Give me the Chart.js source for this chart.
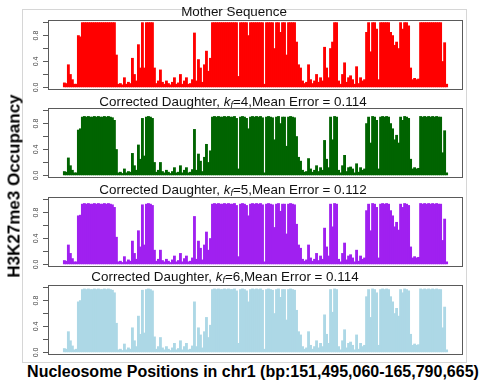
<!DOCTYPE html>
<html>
<head>
<meta charset="utf-8">
<script src="https://cdn.jsdelivr.net/npm/chart.js@4.4.1/dist/chart.umd.min.js"></script>
<style>
  body { margin: 0; background: #fff; font-family: "Liberation Sans", Arial, sans-serif; }
  #page { position: relative; width: 485px; height: 386px; overflow: hidden; }
  #frame { position: absolute; left: 22px; top: 9px; width: 445px; height: 354px; border: 1px solid #d6d6d6; box-sizing: border-box; }
  canvas { position: absolute; left: 22px; }
  .ttl { position: absolute; font-size: 13.4px; line-height: 13px; white-space: nowrap; transform: translateX(-50%); color: #111; z-index: 2; }
  .ttl sub { font-size: 9px; vertical-align: -2px; line-height: 0; }
  #ylab { position: absolute; left: 14px; top: 186px; font-size: 17px; font-weight: bold; line-height: 17px; white-space: nowrap; transform: translate(-50%, -50%) rotate(-90deg); color: #000; }
  #xlab { position: absolute; left: 253px; top: 364px; font-size: 16px; font-weight: bold; line-height: 16px; white-space: nowrap; transform: translateX(-50%); color: #000; }
</style>
</head>
<body>
<div id="page">
  <div id="frame"></div>
  <canvas id="c1" width="444" height="86" style="top:12px"></canvas>
  <canvas id="c2" width="444" height="86" style="top:100px"></canvas>
  <canvas id="c3" width="444" height="86" style="top:189px"></canvas>
  <canvas id="c4" width="444" height="86" style="top:277px"></canvas>
  <div class="ttl" style="left:234px;top:5px">Mother Sequence</div>
  <div class="ttl" style="left:233px;top:95px">Corrected Daughter, <i>k<sub>f</sub></i>=4,Mean Error = 0.114</div>
  <div class="ttl" style="left:233px;top:183px">Corrected Daughter, <i>k<sub>f</sub></i>=5,Mean Error = 0.112</div>
  <div class="ttl" style="left:225px;top:270px">Corrected Daughter, <i>k<sub>f</sub></i>=6,Mean Error = 0.114</div>
  <div id="ylab">H3K27me3 Occupancy</div>
  <div id="xlab">Nucleosome Positions in chr1 (bp:151,495,060-165,790,665)</div>
</div>
<script>
// occupancy per position (192 bins across chr1:151,495,060-165,790,665)
var mother = [
  0.07,0.06,0.35,0.2,0.12,0.05,0.05,0.8,0.78,1,1,1,1,1,1,1,
  1,1,1,1,1,1,1,1,1,1,0.5,0.05,0.06,0.04,0.15,0.05,
  0.08,0.06,0.45,0.2,0.1,0.66,0.3,1,0.3,1,1,1,1,0.3,0.06,0.1,
  0.27,0.08,0.05,0.1,0.06,0.04,0.08,0.15,0.05,0.07,0.2,0.05,0.1,0.15,0.05,0.06,
  0.12,0.84,0.1,0.43,0.3,0.08,0.35,0.56,0.25,0.45,1,1,1,1,1,1,
  1,1,1,1,1,1,1,0.17,1,1,1,1,0.8,1,1,1,
  1,1,1,1,0.05,1,1,1,1,0.6,1,1,0.85,1,1,0.5,
  1,1,1,1,0.7,0.35,0.3,0.1,0.06,0.08,0.35,0.12,0.06,0.1,0.2,0.08,
  0.15,0.1,0.62,0.3,0.15,0.6,0.7,1,1,0.1,0.05,0.2,0.38,0.08,0.15,0.18,
  0.12,0.05,0.32,0.06,0.15,0.1,0.12,0.85,1,0.55,1,1,0.9,0.12,1,1,
  1,1,1,0.85,0.8,0.65,0.7,0.6,1,0.9,1,1,0.95,0.3,0.12,0.14,
  0.12,0.13,1,1,1,1,1,1,1,1,1,1,1,0.4,0.69,0.05
];
var daughterK4 = [
  0.06,0.05,0.27,0.15,0.08,0.04,0.04,0.7,0.72,0.9,0.91,0.9,0.91,0.9,0.9,0.91,
  0.9,0.91,0.9,0.9,0.91,0.9,0.91,0.9,0.89,0.85,0.4,0.04,0.05,0.03,0.1,0.04,
  0.06,0.05,0.34,0.15,0.08,0.47,0.25,0.88,0.3,0.9,0.91,0.9,0.88,0.2,0.05,0.08,
  0.2,0.06,0.04,0.08,0.05,0.03,0.06,0.12,0.04,0.05,0.15,0.04,0.08,0.12,0.04,0.05,
  0.09,0.71,0.08,0.33,0.22,0.06,0.28,0.48,0.2,0.38,0.9,0.91,0.9,0.91,0.9,0.9,
  0.91,0.9,0.91,0.9,0.9,0.91,0.88,0.1,0.9,0.91,0.9,0.88,0.72,0.9,0.91,0.9,
  0.91,0.9,0.91,0.89,0.04,0.9,0.91,0.9,0.89,0.55,0.9,0.91,0.8,0.9,0.9,0.45,
  0.9,0.91,0.9,0.89,0.6,0.28,0.22,0.08,0.05,0.06,0.26,0.1,0.05,0.08,0.15,0.06,
  0.12,0.08,0.54,0.25,0.12,0.9,0.55,0.91,0.9,0.08,0.04,0.15,0.31,0.06,0.12,0.13,
  0.1,0.04,0.18,0.05,0.12,0.08,0.1,0.8,0.9,0.5,0.91,0.9,0.85,0.1,0.9,0.91,
  0.9,0.91,0.9,0.8,0.72,0.55,0.62,0.5,0.9,0.85,0.91,0.9,0.88,0.25,0.1,0.12,
  0.1,0.11,0.91,0.9,0.91,0.9,0.91,0.9,0.91,0.9,0.91,0.9,0.9,0.35,0.69,0.04
];
var daughterK5 = [
  0.06,0.05,0.3,0.17,0.09,0.04,0.04,0.75,0.76,0.93,0.94,0.93,0.94,0.93,0.93,0.94,
  0.93,0.94,0.93,0.93,0.94,0.93,0.94,0.93,0.92,0.88,0.42,0.04,0.05,0.03,0.12,0.04,
  0.07,0.05,0.36,0.17,0.08,0.52,0.27,0.92,0.3,0.93,0.94,0.93,0.91,0.22,0.05,0.08,
  0.22,0.06,0.04,0.08,0.05,0.03,0.07,0.13,0.04,0.06,0.17,0.04,0.09,0.13,0.04,0.05,
  0.1,0.74,0.08,0.36,0.25,0.07,0.3,0.5,0.22,0.4,0.93,0.94,0.93,0.94,0.93,0.93,
  0.94,0.93,0.94,0.93,0.93,0.94,0.91,0.12,0.93,0.94,0.93,0.91,0.75,0.93,0.94,0.93,
  0.94,0.93,0.94,0.92,0.04,0.93,0.94,0.93,0.92,0.57,0.93,0.94,0.82,0.93,0.93,0.47,
  0.93,0.94,0.93,0.92,0.62,0.3,0.25,0.08,0.05,0.07,0.3,0.1,0.05,0.08,0.17,0.06,
  0.13,0.08,0.56,0.27,0.13,0.93,0.58,0.94,0.93,0.08,0.04,0.17,0.33,0.07,0.13,0.15,
  0.1,0.04,0.22,0.05,0.13,0.08,0.1,0.83,0.93,0.52,0.94,0.93,0.88,0.1,0.93,0.94,
  0.93,0.94,0.93,0.83,0.75,0.58,0.65,0.53,0.93,0.88,0.94,0.93,0.91,0.27,0.1,0.12,
  0.1,0.11,0.94,0.93,0.94,0.93,0.94,0.93,0.94,0.93,0.94,0.93,0.93,0.37,0.7,0.04
];
var daughterK6 = [
  0.06,0.05,0.32,0.18,0.1,0.04,0.05,0.78,0.8,0.97,0.98,0.97,0.98,0.97,0.97,0.98,
  0.97,0.98,0.97,0.97,0.98,0.97,0.98,0.97,0.96,0.92,0.45,0.04,0.05,0.03,0.13,0.04,
  0.07,0.05,0.38,0.18,0.09,0.56,0.28,0.96,0.3,0.97,0.98,0.97,0.95,0.24,0.05,0.09,
  0.23,0.07,0.04,0.09,0.05,0.03,0.07,0.14,0.04,0.06,0.18,0.04,0.09,0.14,0.04,0.05,
  0.1,0.78,0.09,0.38,0.27,0.07,0.32,0.54,0.23,0.42,0.97,0.98,0.97,0.98,0.97,0.97,
  0.98,0.97,0.98,0.97,0.97,0.98,0.95,0.14,0.97,0.98,0.97,0.95,0.78,0.97,0.98,0.97,
  0.98,0.97,0.98,0.96,0.05,0.97,0.98,0.97,0.96,0.6,0.97,0.98,0.85,0.97,0.97,0.5,
  0.97,0.98,0.97,0.96,0.65,0.32,0.27,0.09,0.05,0.07,0.32,0.11,0.05,0.09,0.18,0.07,
  0.14,0.09,0.58,0.28,0.14,0.97,0.62,0.98,0.97,0.09,0.04,0.18,0.35,0.07,0.14,0.16,
  0.11,0.04,0.27,0.05,0.14,0.09,0.11,0.86,0.97,0.54,0.98,0.97,0.92,0.11,0.97,0.98,
  0.97,0.98,0.97,0.86,0.78,0.6,0.68,0.56,0.97,0.92,0.98,0.97,0.95,0.28,0.11,0.13,
  0.11,0.12,0.98,0.97,0.98,0.97,0.98,0.97,0.98,0.97,0.98,0.97,0.97,0.38,0.7,0.04
];
var yTicks = [0, 0.2, 0.4, 0.6, 0.8, 1.0];
var yTickLabels = ['0.0', '', '0.4', '', '0.8', ''];

var n = mother.length;
var pad = n * 0.04; // R style 4% axis padding

var boxPlugin = {
  id: 'box',
  afterDraw: function(chart){
    var a = chart.chartArea, c = chart.ctx;
    c.save();
    c.strokeStyle = '#5a5a5a';
    c.lineWidth = 1;
    c.strokeRect(a.left + 0.5, a.top + 0.5, a.width - 1, a.height - 1);
    c.restore();
  }
};

var makePanel = (id, values, color) => {
  var pts = values.map((v, i) => ({x: i, y: v}));
  return new Chart(document.getElementById(id), {
    type: 'bar',
    data: {
      datasets: [{
        data: pts,
        backgroundColor: color,
        borderWidth: 0,
        barPercentage: 1,
        categoryPercentage: 1,
        barThickness: 2.2
      }]
    },
    options: {
      responsive: false,
      animation: false,
      layout: { padding: { left: 0, right: 3, top: 8, bottom: 8 } },
      plugins: { legend: { display: false }, tooltip: { enabled: false } },
      scales: {
        x: { type: 'linear', offset: false, min: -0.5 - pad, max: n - 0.5 + pad, display: false },
        y: {
          min: -0.04, max: 1.04,
          afterBuildTicks: s => { s.ticks = yTicks.map(v => ({value: v})); },
          afterFit: s => { s.width = 26; },
          border: { display: false },
          grid: { drawOnChartArea: false, drawTicks: true, tickLength: 5, color: '#5a5a5a' },
          ticks: {
            callback: (v, idx) => yTickLabels[idx],
            minRotation: 90, maxRotation: 90,
            crossAlign: 'center',
            padding: 2,
            color: '#444',
            font: { family: 'Liberation Sans, Arial, sans-serif', size: 7 }
          }
        }
      }
    },
    plugins: [boxPlugin]
  });
};

makePanel('c1', mother, '#ff0000');
makePanel('c2', daughterK4, '#006400');
makePanel('c3', daughterK5, '#a020f0');
makePanel('c4', daughterK6, '#add8e6');
</script>
</body>
</html>
